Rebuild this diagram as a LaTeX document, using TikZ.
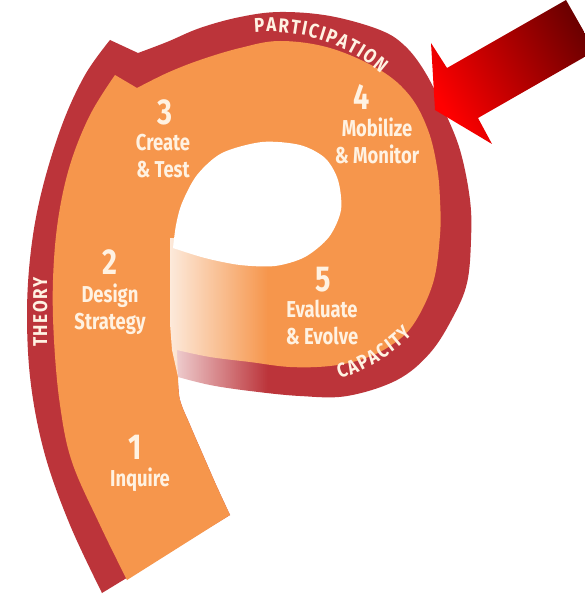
\documentclass[tikz,border=0pt]{standalone}
\usepackage{fontspec}
\usepackage{xcolor}
\usepackage{tikz}
\usetikzlibrary{decorations.text}
\usetikzlibrary{fadings}
\newfontfamily\stepfont[FakeStretch=0.8]{Fira Sans}
\newfontfamily\ringfont[FakeStretch=0.85,WordSpace=0.4]{Fira Sans}
\newcommand{\ringsize}{\fontsize{20}{20}\selectfont\ringfont\bfseries}
\definecolor{porange}{HTML}{F6964C}
\definecolor{pred}{HTML}{BC343A}
\definecolor{pcream}{HTML}{FFF2E2}
\definecolor{arrowdark}{HTML}{6E0000}

\begin{document}
\begin{tikzpicture}[x=1pt,y=1pt,
  stepnum/.style={text=pcream,inner sep=0pt,font=\stepfont\bfseries\fontsize{36}{36}\selectfont},
  steptext/.style={text=pcream,inner sep=0pt,align=center,font=\stepfont\bfseries\fontsize{23}{27}\selectfont},
  ringtext/.style={font=\ringsize,decorate,decoration={text along path,text align=center,text color=pcream,
    text={|\ringsize|#1}}}]
\useasboundingbox (0,0) rectangle (585,-596);
\fill[white] (0,0) rectangle (585,-596);
\clip (0,0) rectangle (585,-596);
\fill[pred] (102,-593)
  -- plot[smooth,tension=0.6] coordinates {(102,-593) (70,-525) (45,-455) (31,-385) (27,-315) (31,-250) (42,-190) (62,-125) (85,-75) (110,-40)}
  -- (138,-53)
  -- plot[smooth,tension=0.6] coordinates {(138,-53) (167,-42) (200,-28) (240,-17) (280,-12) (330,-16) (380,-30) (405,-46) (425,-72) (443,-108) (460,-150) (470,-200) (471,-240) (467,-283) (453,-317) (430,-353) (397,-380) (347,-396) (300,-396) (250,-391) (210,-385) (178,-377)}
  -- plot[smooth,tension=0.6] coordinates {(178,-377) (180,-400) (190,-425) (203,-455) (217,-487) (230,-515)}
  -- cycle;
\fill[porange] (127,-580)
  -- plot[smooth,tension=0.6] coordinates {(127,-580) (100,-525) (72,-462) (60,-405) (54,-340) (53,-280) (58,-220) (70,-165) (90,-115) (115,-75)}
  -- (137,-88)
  -- plot[smooth,tension=0.6] coordinates {(137,-88) (167,-73) (200,-60) (240,-48) (280,-41) (330,-48) (380,-70) (410,-96) (428,-130) (437,-167) (440,-200) (440,-235) (433,-283) (413,-325) (390,-346) (363,-359) (330,-366) (290,-367) (250,-362) (210,-357) (177,-350)}
  -- plot[smooth,tension=0.6] coordinates {(177,-350) (178,-377) (180,-400) (190,-425) (203,-455) (217,-487) (230,-515)}
  -- cycle;
\begin{scope}
\clip (170,-238) -- (168,-297) -- (172,-350) -- (178,-377) -- (180,-400) -- (300,-400) -- (300,-238) -- cycle;
\fill[white,path fading=east,fill opacity=0.8] (170,-238) rectangle (268,-400);
\end{scope}
\fill[white] (173,-248)
  -- plot[smooth] coordinates {(173,-248) (176,-225) (182,-203) (197,-175) (222,-153) (262,-142) (300,-145) (325,-158) (338,-180) (341,-210) (329,-237) (305,-257) (275,-266) (240,-265) (205,-258) (173,-248)}
  -- cycle;
\shade[left color=red,right color=arrowdark,shading angle=120] (435,-110) -- (431,-43) -- (447,-68) -- (566,0) -- (595,-51) -- (478,-118) -- (492,-144) -- cycle;
\path[ringtext={P A R T I C I P A T I O N}]
  (270,-200) ++(102:168) arc[start angle=102,end angle=42,radius=168];
\path[ringtext={C A P A C I T Y}]
  (283,-205) ++(-85:183) arc[start angle=-85,end angle=-32,radius=183];
\path[ringtext={T H E O R Y}] (47,-362) -- (47,-262);
\node[stepnum] (n1) at (135,-447) {1};
\node[steptext] (t1) at (140,-480) {Inquire};
\node[stepnum] (n2) at (110,-262) {2};
\node[steptext] (t2) at (110,-309) {Design\\Strategy};
\node[stepnum] (n3) at (165,-112) {3};
\node[steptext] (t3) at (163,-156) {Create\\\& Test};
\node[stepnum] (n4) at (362,-97) {4};
\node[steptext] (t4) at (377,-141) {Mobilize\\\& Monitor};
\node[stepnum] (n5) at (323,-280) {5};
\node[steptext] (t5) at (322,-322) {Evaluate\\\& Evolve};
\end{tikzpicture}
\end{document}
